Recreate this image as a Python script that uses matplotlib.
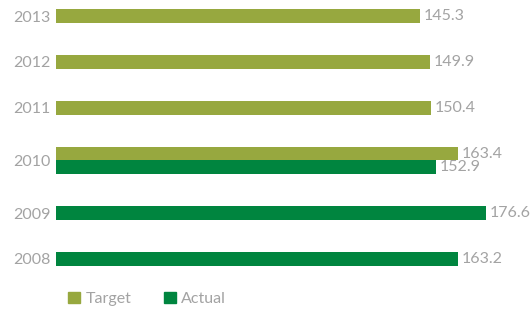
import matplotlib.pyplot as plt
from matplotlib.patches import Patch

years = ["2008", "2009", "2010", "2011", "2012", "2013"]
target = [None, None, 163.4, 150.4, 149.9, 145.3]
actual = [163.2, 176.6, 152.9, None, None, None]

target_color = "#97a83f"
actual_color = "#00853f"
text_color = "#a3a3a3"

plt.rcParams["font.family"] = ["Lato", "DejaVu Sans"]

fig = plt.figure(figsize=(5.32, 3.09), dpi=100)
ax = fig.add_axes([56 / 532, 34 / 309, 444 / 532, 275 / 309])

# rows after the doubled 2010 row get pushed down a bit
ypos = []
for y in years:
    shift = 0.3 if int(y) > 2010 else (0.15 if y == "2010" else 0)
    ypos.append(years.index(y) + shift)

base = -28
scale = 2.1  # px per unit
h = 0.3
fs = 11.5
for i, y in enumerate(ypos):
    t, a = target[i], actual[i]
    if t is not None and a is not None:
        ax.barh(y + h / 2, t - base, left=base, height=h, color=target_color)
        ax.barh(y - h / 2, a - base, left=base, height=h, color=actual_color)
        ax.text(t + 1.8, y + h / 2, f"{t}", va="center", color=text_color, fontsize=fs)
        ax.text(a + 1.8, y - h / 2, f"{a}", va="center", color=text_color, fontsize=fs)
    elif t is not None:
        ax.barh(y, t - base, left=base, height=h, color=target_color)
        ax.text(t + 1.8, y, f"{t}", va="center", color=text_color, fontsize=fs)
    else:
        ax.barh(y, a - base, left=base, height=h, color=actual_color)
        ax.text(a + 1.8, y, f"{a}", va="center", color=text_color, fontsize=fs)

ax.set_xlim(base, base + 444 / scale)
ax.set_ylim(-0.35, 5.65)
ax.set_yticks(ypos)
ax.set_yticklabels(years, color=text_color, fontsize=fs)
ax.tick_params(axis="y", length=0, pad=4)
ax.set_xticks([])
for s in ax.spines.values():
    s.set_visible(False)

handles = [Patch(color=target_color, label="Target"), Patch(color=actual_color, label="Actual")]
leg = fig.legend(handles=handles, loc="center left", bbox_to_anchor=(54 / 532, 1 - 299 / 309),
                 ncol=2, frameon=False, fontsize=fs, handlelength=0.75, handleheight=0.75,
                 handletextpad=0.35, columnspacing=2.0)
for txt in leg.get_texts():
    txt.set_color(text_color)

fig.savefig("out.png", dpi=100)
